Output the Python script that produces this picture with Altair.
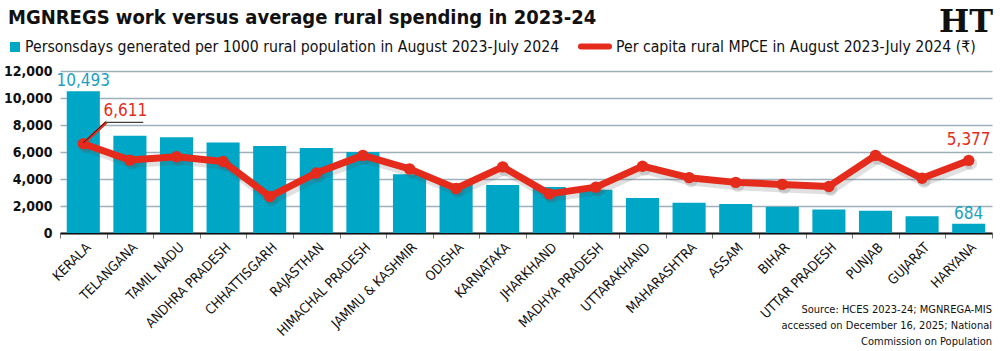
import altair as alt
import pandas as pd

# States ordered by MGNREGS persondays
states = [
    "KERALA", "TELANGANA", "TAMIL NADU", "ANDHRA PRADESH", "CHHATTISGARH",
    "RAJASTHAN", "HIMACHAL PRADESH", "JAMMU & KASHMIR", "ODISHA", "KARNATAKA",
    "JHARKHAND", "MADHYA PRADESH", "UTTARAKHAND", "MAHARASHTRA", "ASSAM",
    "BIHAR", "UTTAR PRADESH", "PUNJAB", "GUJARAT", "HARYANA",
]
# Persondays generated per 1000 rural population, Aug 2023-Jul 2024
persondays = [10493, 7200, 7100, 6700, 6450, 6300, 6000, 4350, 3650, 3550,
              3400, 3200, 2600, 2250, 2150, 1950, 1750, 1650, 1250, 684]
# Per capita rural MPCE (Rs), Aug 2023-Jul 2024
mpce = [6611, 5400, 5650, 5300, 2700, 4450, 5750, 4750, 3300, 4900,
        2900, 3400, 4950, 4100, 3750, 3600, 3450, 5750, 4050, 5377]

y_ticks = [0, 2000, 4000, 6000, 8000, 10000, 12000]

title_text = "MGNREGS work versus average rural spending in 2023-24"
legend_bar = "Personsdays generated per 1000 rural population in August 2023-July 2024"
legend_line = "Per capita rural MPCE in August 2023-July 2024 (₹)"
source_text = ("Source: HCES 2023-24; MGNREGA-MIS\n"
               "accessed on December 16, 2025; National\n"
               "Commission on Population")

TEAL = "#00a6c6"
RED = "#e52b1c"
FONT = "DejaVu Sans Condensed"

W, H = 932, 162

df = pd.DataFrame({"state": states, "days": persondays, "mpce": mpce})

xs = alt.X("state:N", sort=states)
x = alt.X("state:N", sort=states, title=None,
          scale=alt.Scale(paddingInner=0, paddingOuter=0),
          axis=alt.Axis(labelAngle=-45, labelAlign="right", labelBaseline="top",
                        labelFont=FONT, labelFontSize=13.5, labelColor="#111",
                        labelPadding=2, tickBand="extent", ticks=True,
                        tickSize=5, tickColor="#777", tickWidth=1,
                        domainColor="#111", domainWidth=2))
y_scale = alt.Scale(domain=[0, 12000], nice=False)
y_axis = alt.Axis(values=y_ticks, labelExpr="format(datum.value, ',')",
                  labelFont=FONT, labelFontSize=14, labelFontWeight="bold",
                  labelColor="#111", labelPadding=8, domain=False,
                  ticks=False, grid=True, gridColor="#9fb0bb",
                  gridWidth=1.5)


def yq(field):
    return alt.Y(field, scale=y_scale, axis=y_axis, title=None)


def yv(value):
    return alt.Y(datum=value, scale=y_scale, axis=y_axis, title=None)


base = alt.Chart(df)

bars = base.mark_bar(color=TEAL, width=alt.RelativeBandSize(0.71)).encode(
    x=x, y=yq("days:Q"))

shadow_line = base.mark_line(color="#555", opacity=0.18, strokeWidth=10,
                             xOffset=2, yOffset=3, strokeJoin="round").encode(
    x=xs, y=yq("mpce:Q"))
shadow_pts = base.mark_circle(color="#555", opacity=0.18, size=170,
                              xOffset=2, yOffset=3).encode(x=xs, y=yq("mpce:Q"))
line = base.mark_line(color=RED, strokeWidth=7, strokeJoin="round").encode(
    x=xs, y=yq("mpce:Q"))
pts = base.mark_circle(color=RED, opacity=1, size=130).encode(x=xs, y=yq("mpce:Q"))

# Value labels on the first and last bars
bar_lbl = base.transform_filter(
    alt.FieldOneOfPredicate(field="state", oneOf=["KERALA", "HARYANA"])
).mark_text(font=FONT, fontSize=17, color="#1d9fc0", baseline="bottom", dy=-1).encode(
    x=xs, y=yq("days:Q"), text=alt.Text("days:Q", format=","))

# Label above the last MPCE point
line_lbl = base.transform_filter(
    alt.FieldEqualPredicate(field="state", equal="HARYANA")
).mark_text(font=FONT, fontSize=17, color=RED, baseline="bottom", dy=-11).encode(
    x=xs, y=yq("mpce:Q"), text=alt.Text("mpce:Q", format=","))

# Callout for the first MPCE point
kerala = base.transform_filter(alt.FieldEqualPredicate(field="state", equal="KERALA"))
CALLOUT_Y = 8200
lead_red = kerala.mark_rule(color=RED, strokeWidth=3, x2Offset=23).encode(
    x=xs, x2="state:N", y=yq("mpce:Q"), y2=alt.datum(CALLOUT_Y))
lead_blk = kerala.mark_rule(color="#111", strokeWidth=0.9, x2Offset=23, yOffset=-1,
                            y2Offset=-1).encode(
    x=xs, x2="state:N", y=yq("mpce:Q"), y2=alt.datum(CALLOUT_Y))
underline = kerala.mark_rule(color="#111", strokeWidth=1, xOffset=23, x2Offset=60).encode(
    x=xs, x2="state:N", y=yv(CALLOUT_Y))
callout_txt = kerala.mark_text(font=FONT, fontSize=17, color=RED, baseline="bottom",
                               dx=42, dy=-2).encode(
    x=xs, y=yv(CALLOUT_Y), text=alt.Text("mpce:Q", format=","))

# Header: title, legend, logo, and the source note
one = pd.DataFrame({"t": [0]})
hdr = alt.Chart(one)
title = hdr.mark_text(text=title_text, font=FONT, fontSize=20, fontWeight="bold",
                      color="#111", align="left", baseline="alphabetic").encode(
    x=alt.value(-52), y=alt.value(-47))
leg_sq = hdr.mark_rect(color=TEAL).encode(
    x=alt.value(-50), x2=alt.value(-40), y=alt.value(-29), y2=alt.value(-19))
leg_t1 = hdr.mark_text(text=legend_bar, font=FONT, fontSize=15.7, color="#111",
                       align="left", baseline="alphabetic").encode(
    x=alt.value(-35), y=alt.value(-19))
leg_ln = hdr.mark_rule(color=RED, strokeWidth=6, strokeCap="round").encode(
    x=alt.value(521), x2=alt.value(549), y=alt.value(-24.5))
leg_t2 = hdr.mark_text(text=legend_line, font=FONT, fontSize=15.7, color="#111",
                       align="left", baseline="alphabetic").encode(
    x=alt.value(556), y=alt.value(-19))
logo = hdr.mark_text(text="HT", font="DejaVu Serif", fontSize=32, fontWeight="bold",
                     color="#111", align="right", baseline="alphabetic").encode(
    x=alt.value(933), y=alt.value(-39))
source = hdr.mark_text(text=source_text, lineBreak="\n", lineHeight=16, font=FONT,
                       fontSize=11, color="#111", align="right",
                       baseline="alphabetic").encode(
    x=alt.value(932), y=alt.value(242))

chart = alt.layer(
    bars, shadow_line, shadow_pts, line, pts, bar_lbl, line_lbl,
    lead_red, lead_blk, underline, callout_txt,
    title, leg_sq, leg_t1, leg_ln, leg_t2, logo, source,
).properties(
    width=W, height=H,
    autosize=alt.AutoSizeParams(type="none"),
    padding={"left": 60, "top": 71, "right": 8, "bottom": 118},
    background="white",
).configure_view(stroke=None)

chart.save("out.html", embed_options={"renderer": "svg", "actions": False})
